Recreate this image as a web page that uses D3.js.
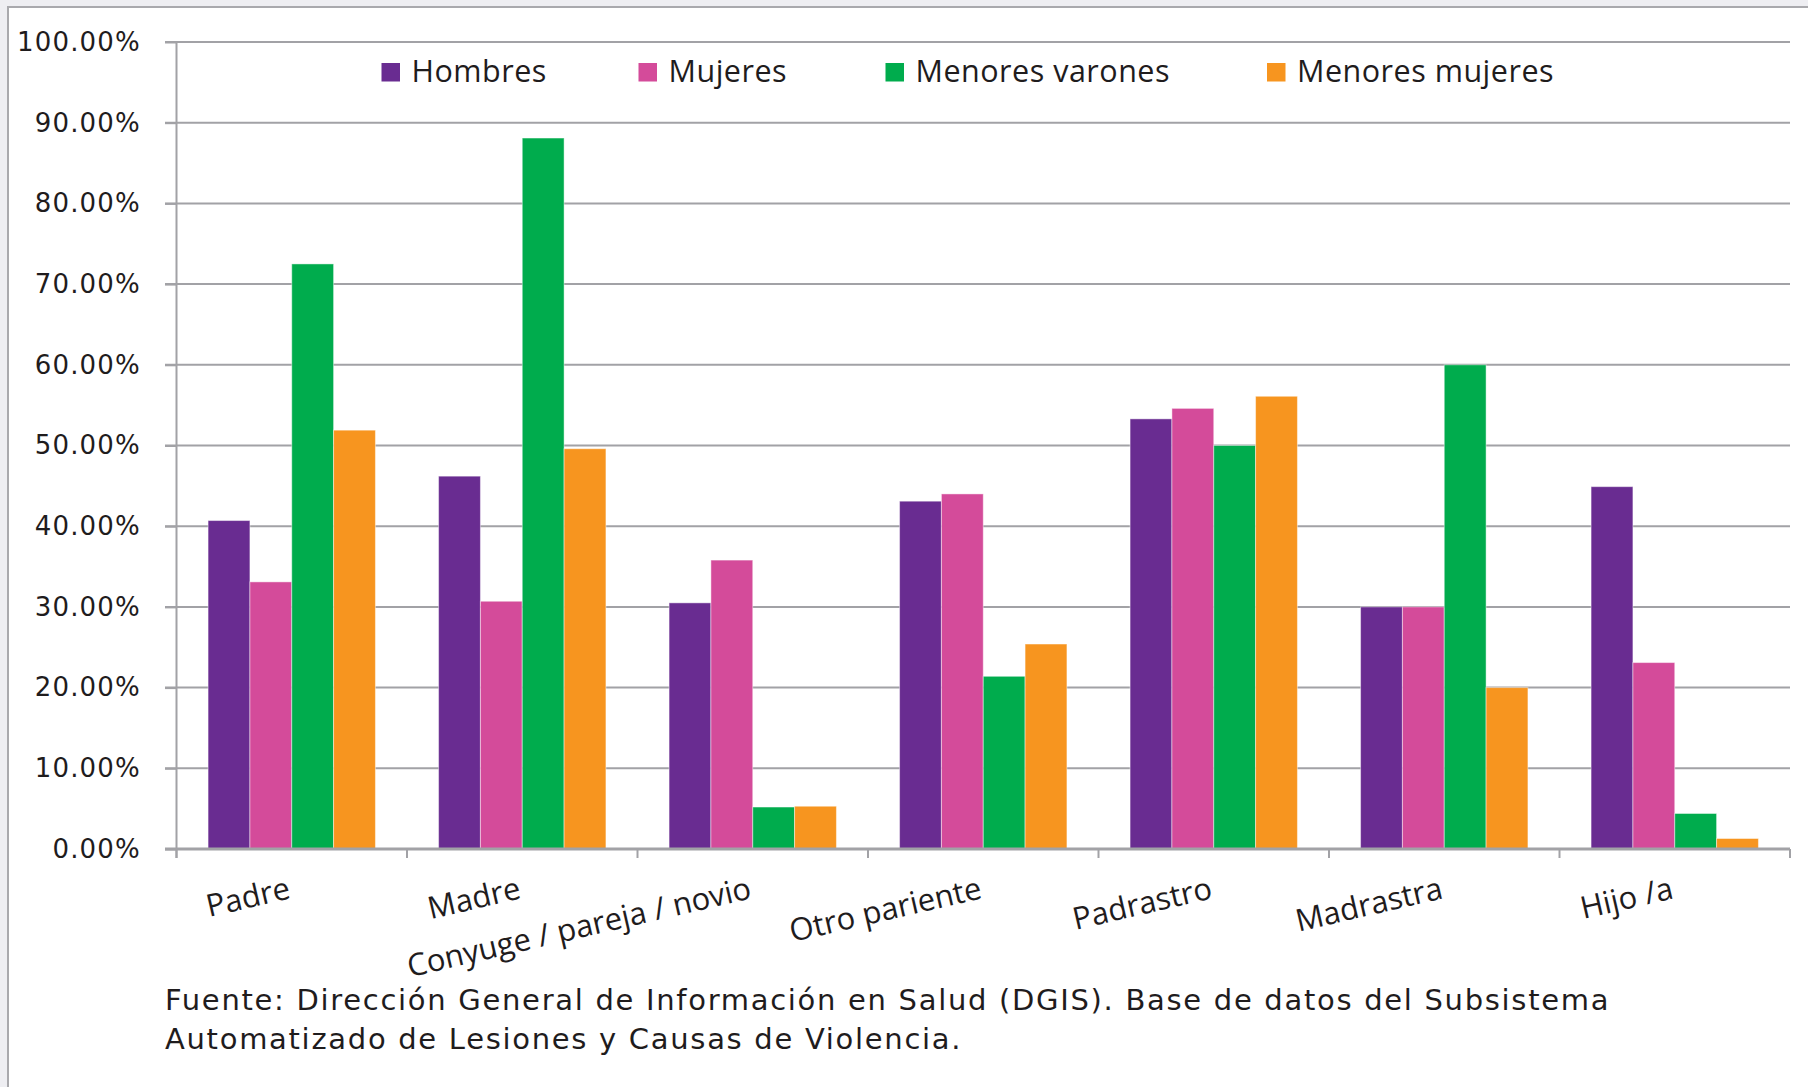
<!DOCTYPE html>
<html>
<head>
<meta charset="utf-8">
<script src="https://cdn.jsdelivr.net/npm/d3@7"></script>
<style>
  html, body { margin: 0; padding: 0; background: #eeeef2; }
  svg { display: block; }
</style>
</head>
<body>
<div id="app"></div>
<script>
const categories = ['Padre', 'Madre', 'Conyuge / pareja / novio', 'Otro pariente', 'Padrastro', 'Madrastra', 'Hijo /a'];
const seriesNames = ['Hombres', 'Mujeres', 'Menores varones', 'Menores mujeres'];
const hombres        = [40.7, 46.2, 30.5, 43.1, 53.3, 30.0, 44.9];
const mujeres        = [33.1, 30.7, 35.8, 44.0, 54.6, 30.0, 23.1];
const menoresVarones = [72.5, 88.1,  5.2, 21.4, 50.0, 60.0,  4.4];
const menoresMujeres = [51.9, 49.6,  5.3, 25.4, 56.1, 20.0,  1.3];
const yTicks = [0, 10, 20, 30, 40, 50, 60, 70, 80, 90, 100];
const footerLines = [
  'Fuente: Dirección General de Información en Salud (DGIS). Base de datos del Subsistema',
  'Automatizado de Lesiones y Causas de Violencia.'
];

const colors = ['#692c91', '#d44b9a', '#00ac4d', '#f7951f'];
const values = [hombres, mujeres, menoresVarones, menoresMujeres];
const gridColor = '#a2a2a6';
const textColor = '#1f1c1d';

const width = 1808, height = 1087;
const plot = { left: 176.5, right: 1790, top: 42, bottom: 849 };

const svg = d3.select('#app').append('svg')
  .attr('width', width)
  .attr('height', height);

// frame
svg.append('rect')
  .attr('x', 8).attr('y', 7)
  .attr('width', width).attr('height', height)
  .attr('fill', '#fff')
  .attr('stroke', '#a9a9ad')
  .attr('stroke-width', 2);

const x0 = d3.scaleBand()
  .domain(categories)
  .range([plot.left, plot.right])
  .paddingInner(0.274)
  .paddingOuter(0.137);

const x1 = d3.scaleBand()
  .domain(seriesNames)
  .range([0, x0.bandwidth()]);

const y = d3.scaleLinear()
  .domain([0, 100])
  .range([plot.bottom, plot.top]);

// gridlines
svg.append('g')
  .selectAll('line')
  .data(yTicks.slice(1))
  .enter().append('line')
  .attr('x1', 165).attr('x2', plot.right)
  .attr('y1', d => y(d)).attr('y2', d => y(d))
  .attr('stroke', gridColor)
  .attr('stroke-width', 2);

// y axis
const yAxis = svg.append('g')
  .attr('transform', `translate(${plot.left},0)`)
  .call(d3.axisLeft(y).tickValues(yTicks).tickSize(11.5).tickPadding(24)
    .tickFormat(d => d.toFixed(2) + '%'));
yAxis.select('.domain').remove();
yAxis.selectAll('line').attr('stroke', gridColor).attr('stroke-width', 2);
yAxis.selectAll('text')
  .attr('font-family', 'DejaVu Sans')
  .attr('font-size', 26)
  .attr('letter-spacing', 1.2)
  .attr('fill', textColor);

svg.append('line')
  .attr('x1', plot.left).attr('x2', plot.left)
  .attr('y1', plot.top).attr('y2', plot.bottom + 9)
  .attr('stroke', gridColor).attr('stroke-width', 2);

// bars
const groups = svg.append('g')
  .selectAll('g')
  .data(categories)
  .enter().append('g')
  .attr('transform', d => `translate(${x0(d)},0)`);

groups.selectAll('rect')
  .data((c, i) => seriesNames.map((s, j) => ({ s, j, v: values[j][i] })))
  .enter().append('rect')
  .attr('x', d => x1(d.s))
  .attr('width', x1.bandwidth())
  .attr('y', d => y(d.v))
  .attr('height', d => y(0) - y(d.v))
  .attr('fill', d => colors[d.j])
  .attr('stroke', 'rgba(255,255,255,0.45)')
  .attr('stroke-width', 1);

// x axis
svg.append('line')
  .attr('x1', 165).attr('x2', plot.right)
  .attr('y1', plot.bottom).attr('y2', plot.bottom)
  .attr('stroke', gridColor).attr('stroke-width', 3);

const step = x0.step();
svg.append('g')
  .selectAll('line')
  .data(d3.range(categories.length + 1))
  .enter().append('line')
  .attr('x1', i => plot.left + i * step).attr('x2', i => plot.left + i * step)
  .attr('y1', plot.bottom).attr('y2', plot.bottom + 9)
  .attr('stroke', gridColor).attr('stroke-width', 2);

svg.append('g')
  .selectAll('text')
  .data(categories)
  .enter().append('text')
  .attr('transform', d => `translate(${x0(d) + x0.bandwidth() / 2},898) rotate(-13)`)
  .attr('text-anchor', 'end')
  .attr('font-family', 'Open Sans')
  .attr('font-size', 31)
  .attr('fill', textColor)
  .text(d => d);

// legend
const legendX = [381.5, 638.5, 885.5, 1267];
const legend = svg.append('g')
  .selectAll('g')
  .data(seriesNames)
  .enter().append('g')
  .attr('transform', (d, i) => `translate(${legendX[i]},63)`);
legend.append('rect')
  .attr('width', 18.5).attr('height', 18.5)
  .attr('fill', (d, i) => colors[i]);
legend.append('text')
  .attr('x', 30).attr('y', 19)
  .attr('font-family', 'Open Sans')
  .attr('font-size', 30.5)
  .attr('letter-spacing', 0.5)
  .attr('fill', textColor)
  .text(d => d);

// source note
svg.append('g')
  .selectAll('text')
  .data(footerLines)
  .enter().append('text')
  .attr('x', 165)
  .attr('y', (d, i) => 1010 + i * 39)
  .attr('font-family', 'DejaVu Sans')
  .attr('font-size', 29)
  .attr('letter-spacing', 1.7)
  .attr('fill', textColor)
  .text(d => d);
</script>
</body>
</html>
